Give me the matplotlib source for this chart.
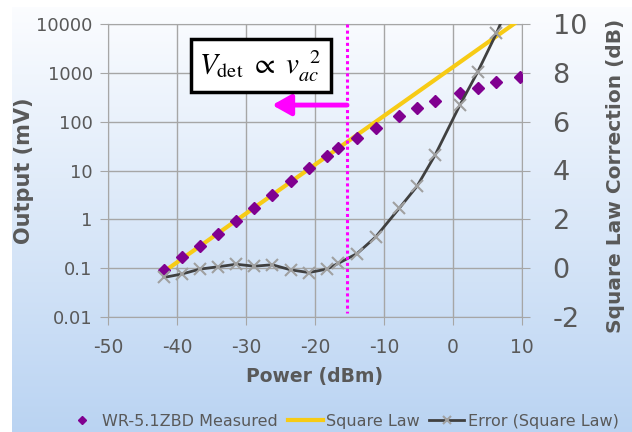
import numpy as np
import matplotlib
matplotlib.use('Agg')
import matplotlib.pyplot as plt

# 读图得到的数据
power = [-41.9, -39.3, -36.7, -34.0, -31.4, -28.8, -26.2, -23.5, -20.9, -18.3,
         -16.6, -13.9, -11.2, -7.8, -5.2, -2.6, 1.0, 3.6, 6.3, 9.7]
measured = [0.093, 0.17, 0.29, 0.51, 0.91, 1.7, 3.1, 6.0, 11.1, 19.8,
            28.5, 46, 75, 130, 193, 264, 379, 496, 658, 817]
error_db = [-0.38, -0.24, -0.04, 0.06, 0.16, 0.08, 0.14, -0.07, -0.18, -0.04,
            0.2, 0.6, 1.28, 2.45, 3.36, 4.63, 6.68, 8.05, 9.62, 11.9]
sq_power = [-42, 10]
sq_value = [0.083, 13150]

left_ticks = [0.01, 0.1, 1, 10, 100, 1000, 10000]
left_labels = ['0.01', '0.1', '1', '10', '100', '1000', '10000']
right_ticks = [-2, 0, 2, 4, 6, 8, 10]
x_ticks = [-50, -40, -30, -20, -10, 0, 10]
marker_line = -15.36

txt = '#595959'
grid = '#A6A6A6'

plt.rcParams['axes.unicode_minus'] = False
plt.rcParams['mathtext.fontset'] = 'stix'

fig = plt.figure(figsize=(6.32, 4.32), dpi=100)
fig.patch.set_facecolor('white')

# 背景渐变
bg = fig.add_axes([12/632, 0, 1 - 12/632, 1 - 7/432], zorder=-5)
grad = np.linspace(0, 1, 256).reshape(-1, 1)
top = np.array([0.985, 0.99, 1.0])
bot = np.array([0.73, 0.83, 0.95])
img = top + (bot - top) * grad[:, :, None] ** 1.0
bg.imshow(img, aspect='auto', extent=[0, 1, 0, 1])
bg.axis('off')

ax = fig.add_axes([108/632, 1 - 317/432, 414/632, 293/432])
ax.patch.set_visible(False)
ax.set_yscale('log')
ax.set_xlim(-50, 10)
ax.set_ylim(0.01, 10000)
ax.set_xticks(x_ticks)
ax.set_yticks(left_ticks)
ax.set_yticklabels(left_labels)
ax.minorticks_off()
ax.grid(True, color=grid, lw=1)
for s in ax.spines.values():
    s.set_color(grid)
ax.tick_params(colors=grid, labelcolor=txt, labelsize=13, length=6)
ax.tick_params(axis='x', pad=9, labelsize=13.5)
ax.tick_params(axis='y', pad=5)

ax.plot(sq_power, sq_value, color='#F7CB15', lw=3, zorder=3, label='Square Law')
ax.plot(power, measured, 'D', color='#800090', ms=6.5, zorder=4,
        label='WR-5.1ZBD Measured')

ax2 = ax.twinx()
ax2.patch.set_visible(False)
ax2.set_ylim(-2, 10)
ax2.set_yticks(right_ticks)
for s in ax2.spines.values():
    s.set_visible(False)
ax2.tick_params(colors=grid, labelcolor=txt, labelsize=19.5, length=6, pad=16)
ax2.plot(power, error_db, color='#404040', lw=2, marker='x', ms=9,
         mec='#A0A0A0', mew=1.5, zorder=3, label='Error (Square Law)')

ax.set_xlabel('Power (dBm)', fontsize=13.5, fontweight='bold', color=txt, labelpad=7)
ax.set_ylabel('Output (mV)', fontsize=15, fontweight='bold', color=txt, labelpad=2)
ax2.set_ylabel('Square Law Correction (dB)', fontsize=14.5, fontweight='bold',
               color=txt, labelpad=14, y=0.48)

# 标注
ax2.plot([marker_line, marker_line], [10, -1.85], color='#FF00FF', lw=2.2,
         dashes=(1, 1), zorder=6)
ax2.annotate('', xy=(-26.2, 6.68), xytext=(marker_line, 6.68),
             arrowprops=dict(arrowstyle='-|>,head_length=0.8,head_width=0.45',
                             color='#FF00FF', lw=3.5,
                             mutation_scale=14, shrinkA=0, shrinkB=0), zorder=6)
ax2.text(0.369, 0.857, r'$V_{\rm det}\ \propto\ v_{ac}^{\ \ 2}$', transform=ax.transAxes,
         fontsize=21, ha='center', va='center', zorder=7,
         bbox=dict(boxstyle='square,pad=0.3', fc='white', ec='black', lw=2.5))

h1, l1 = ax.get_legend_handles_labels()
h2, l2 = ax2.get_legend_handles_labels()
order = [1, 0]
handles = [h1[i] for i in order] + h2
labels = [l1[i] for i in order] + l2
leg = fig.legend(handles, labels, loc='center', bbox_to_anchor=(0.54, 0.025),
                 ncol=3, frameon=False, fontsize=11.5, handlelength=2.2,
                 columnspacing=0.6, handletextpad=0.2, markerscale=0.7)
for t in leg.get_texts():
    t.set_color(txt)

plt.savefig('out.png', dpi=100)
